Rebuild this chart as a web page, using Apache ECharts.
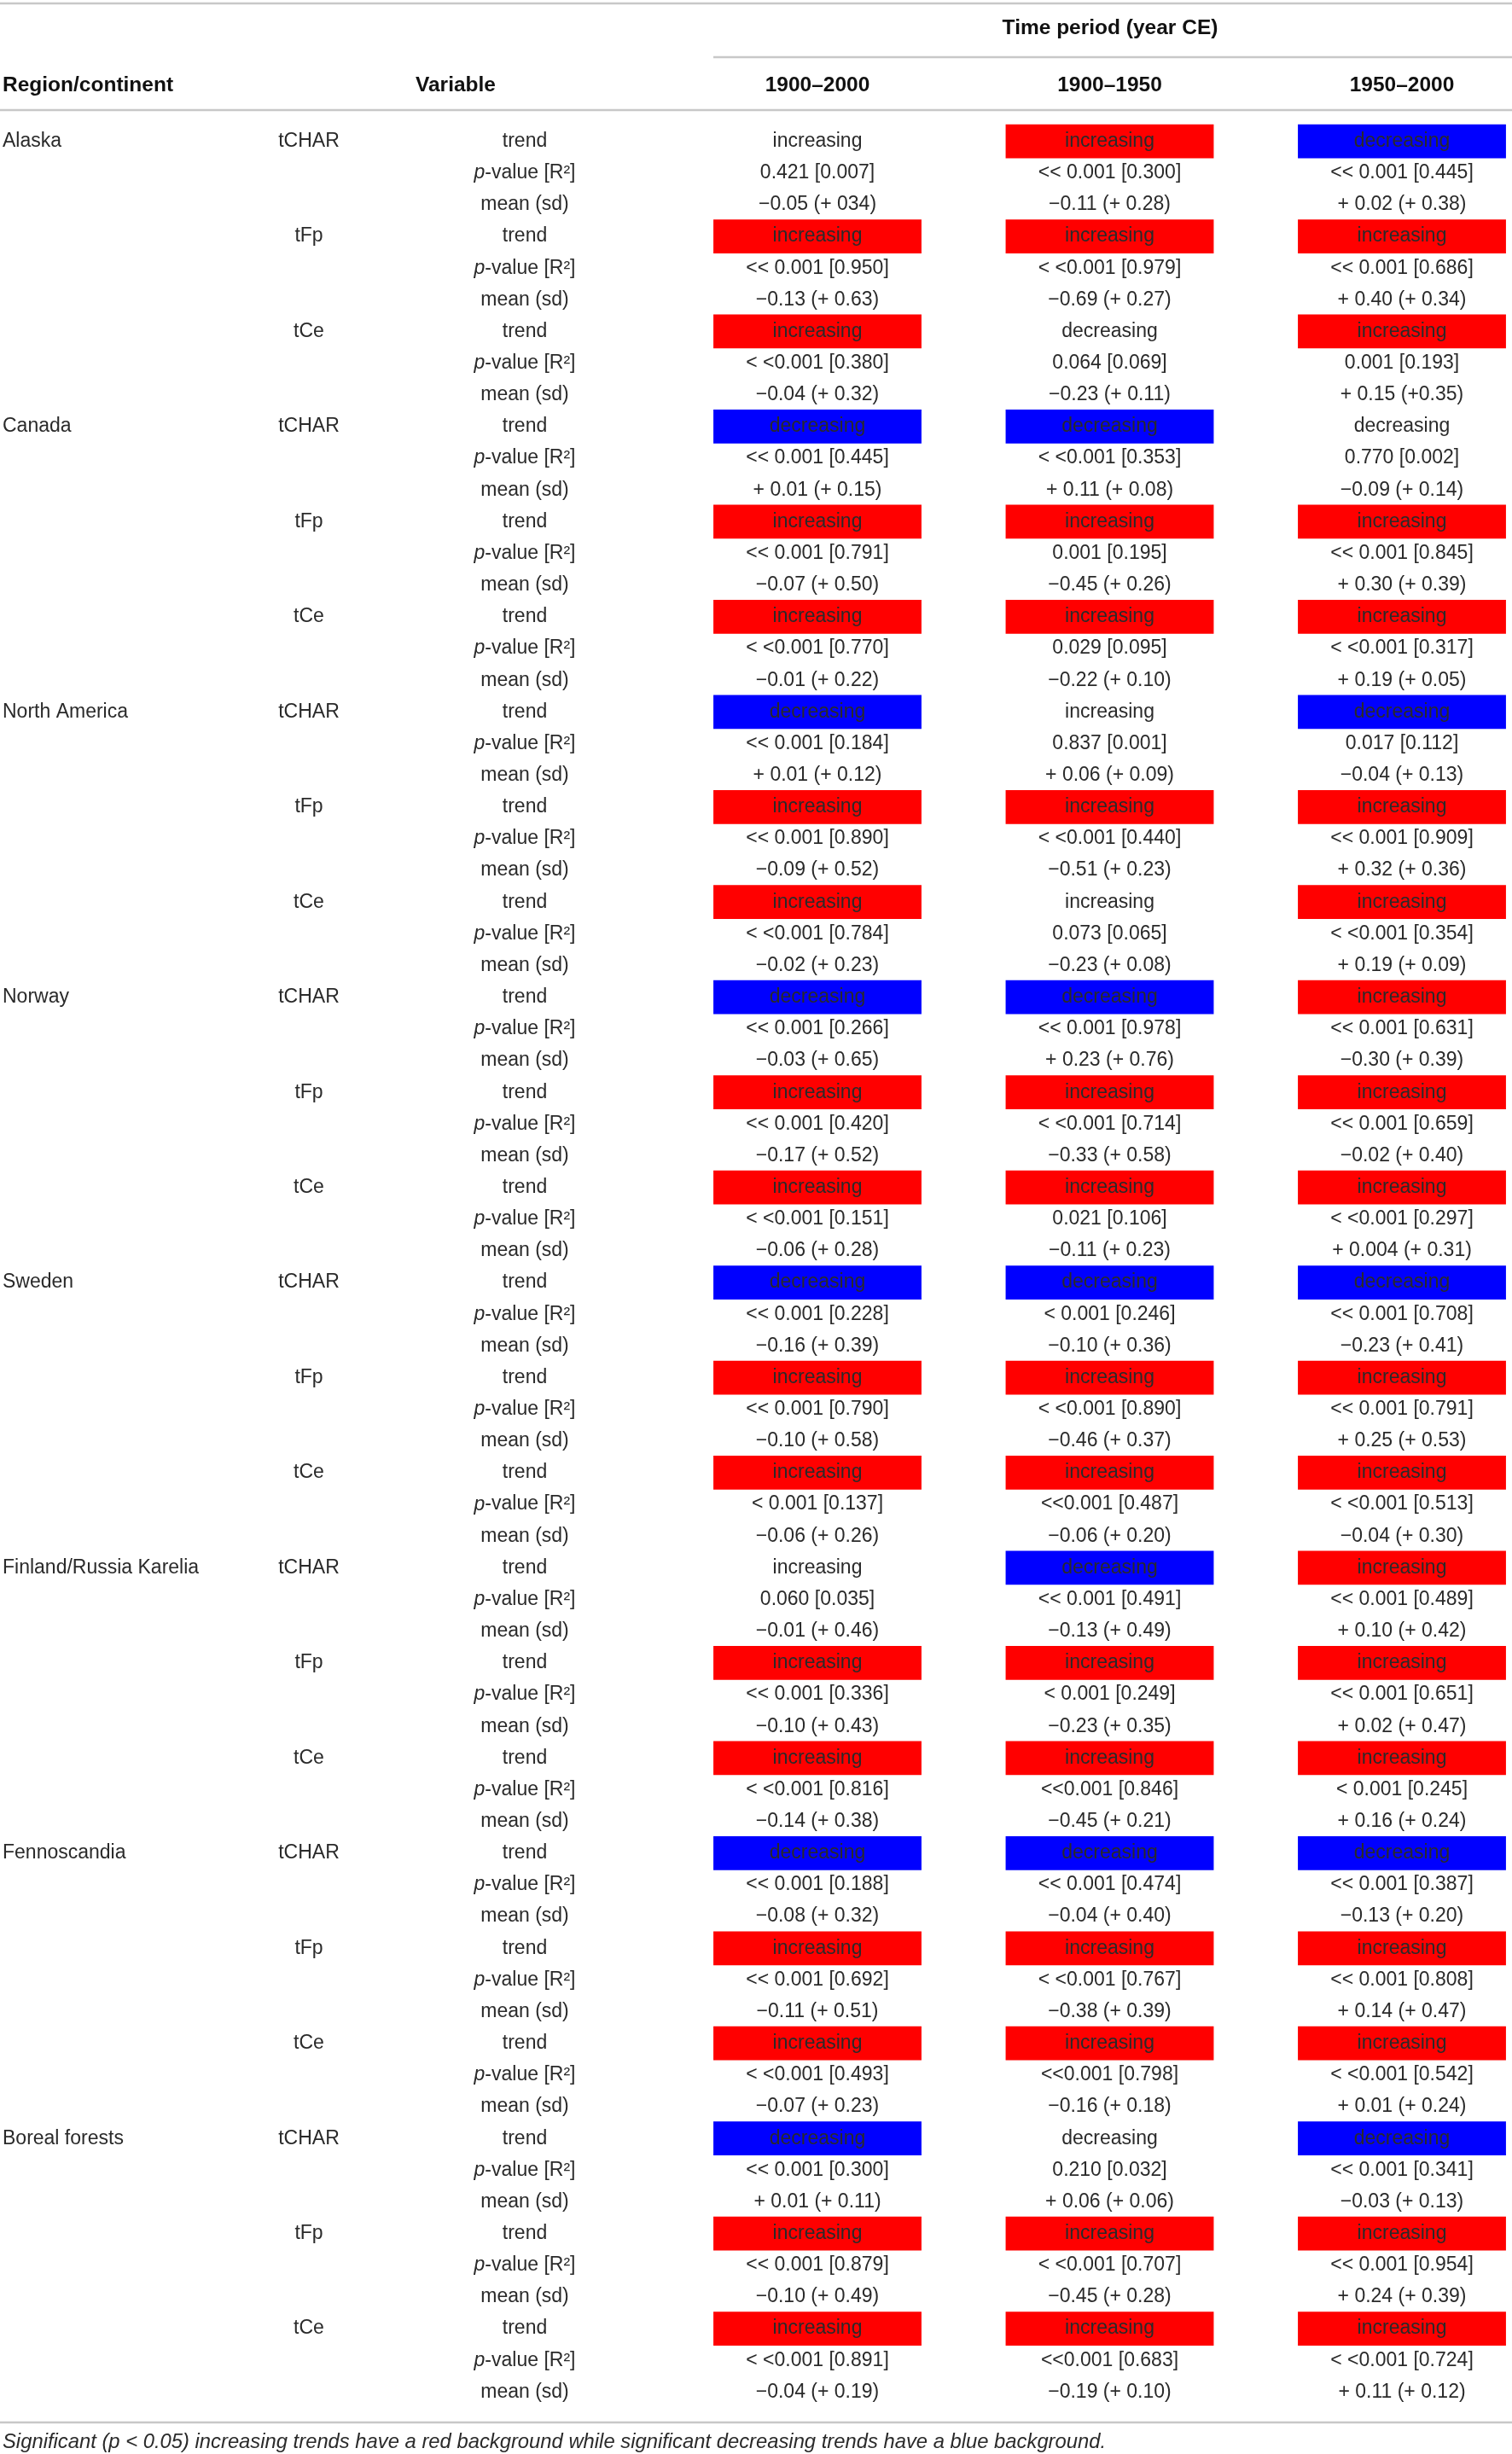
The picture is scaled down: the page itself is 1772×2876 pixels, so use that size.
<!DOCTYPE html>
<html><head><meta charset="utf-8">
<script src="https://cdn.jsdelivr.net/npm/echarts@6/dist/echarts.min.js"></script>
<style>html,body{margin:0;padding:0;background:#fff}#c{width:1772px;height:2876px}</style>
</head><body><div id="c"></div>
<script>
const regions = ['Alaska','Canada','North America','Norway','Sweden','Finland/Russia Karelia','Fennoscandia','Boreal forests'];
const variables = ['tCHAR','tFp','tCe'];
const statLabels = ['trend','{i|p}-value [R²]','mean (sd)'];
const periods = ['1900–2000','1900–1950','1950–2000'];

// 24 entries per period: region x (tCHAR, tFp, tCe)
const trend_1900_2000 = [
 'increasing','increasing','increasing',
 'decreasing','increasing','increasing',
 'decreasing','increasing','increasing',
 'decreasing','increasing','increasing',
 'decreasing','increasing','increasing',
 'increasing','increasing','increasing',
 'decreasing','increasing','increasing',
 'decreasing','increasing','increasing'];
const pval_1900_2000 = [
 '0.421 [0.007]','<< 0.001 [0.950]','< <0.001 [0.380]',
 '<< 0.001 [0.445]','<< 0.001 [0.791]','< <0.001 [0.770]',
 '<< 0.001 [0.184]','<< 0.001 [0.890]','< <0.001 [0.784]',
 '<< 0.001 [0.266]','<< 0.001 [0.420]','< <0.001 [0.151]',
 '<< 0.001 [0.228]','<< 0.001 [0.790]','< 0.001 [0.137]',
 '0.060 [0.035]','<< 0.001 [0.336]','< <0.001 [0.816]',
 '<< 0.001 [0.188]','<< 0.001 [0.692]','< <0.001 [0.493]',
 '<< 0.001 [0.300]','<< 0.001 [0.879]','< <0.001 [0.891]'];
const mean_1900_2000 = [
 '−0.05 (+ 034)','−0.13 (+ 0.63)','−0.04 (+ 0.32)',
 '+ 0.01 (+ 0.15)','−0.07 (+ 0.50)','−0.01 (+ 0.22)',
 '+ 0.01 (+ 0.12)','−0.09 (+ 0.52)','−0.02 (+ 0.23)',
 '−0.03 (+ 0.65)','−0.17 (+ 0.52)','−0.06 (+ 0.28)',
 '−0.16 (+ 0.39)','−0.10 (+ 0.58)','−0.06 (+ 0.26)',
 '−0.01 (+ 0.46)','−0.10 (+ 0.43)','−0.14 (+ 0.38)',
 '−0.08 (+ 0.32)','−0.11 (+ 0.51)','−0.07 (+ 0.23)',
 '+ 0.01 (+ 0.11)','−0.10 (+ 0.49)','−0.04 (+ 0.19)'];

const trend_1900_1950 = [
 'increasing','increasing','decreasing',
 'decreasing','increasing','increasing',
 'increasing','increasing','increasing',
 'decreasing','increasing','increasing',
 'decreasing','increasing','increasing',
 'decreasing','increasing','increasing',
 'decreasing','increasing','increasing',
 'decreasing','increasing','increasing'];
const pval_1900_1950 = [
 '<< 0.001 [0.300]','< <0.001 [0.979]','0.064 [0.069]',
 '< <0.001 [0.353]','0.001 [0.195]','0.029 [0.095]',
 '0.837 [0.001]','< <0.001 [0.440]','0.073 [0.065]',
 '<< 0.001 [0.978]','< <0.001 [0.714]','0.021 [0.106]',
 '< 0.001 [0.246]','< <0.001 [0.890]','<<0.001 [0.487]',
 '<< 0.001 [0.491]','< 0.001 [0.249]','<<0.001 [0.846]',
 '<< 0.001 [0.474]','< <0.001 [0.767]','<<0.001 [0.798]',
 '0.210 [0.032]','< <0.001 [0.707]','<<0.001 [0.683]'];
const mean_1900_1950 = [
 '−0.11 (+ 0.28)','−0.69 (+ 0.27)','−0.23 (+ 0.11)',
 '+ 0.11 (+ 0.08)','−0.45 (+ 0.26)','−0.22 (+ 0.10)',
 '+ 0.06 (+ 0.09)','−0.51 (+ 0.23)','−0.23 (+ 0.08)',
 '+ 0.23 (+ 0.76)','−0.33 (+ 0.58)','−0.11 (+ 0.23)',
 '−0.10 (+ 0.36)','−0.46 (+ 0.37)','−0.06 (+ 0.20)',
 '−0.13 (+ 0.49)','−0.23 (+ 0.35)','−0.45 (+ 0.21)',
 '−0.04 (+ 0.40)','−0.38 (+ 0.39)','−0.16 (+ 0.18)',
 '+ 0.06 (+ 0.06)','−0.45 (+ 0.28)','−0.19 (+ 0.10)'];

const trend_1950_2000 = [
 'decreasing','increasing','increasing',
 'decreasing','increasing','increasing',
 'decreasing','increasing','increasing',
 'increasing','increasing','increasing',
 'decreasing','increasing','increasing',
 'increasing','increasing','increasing',
 'decreasing','increasing','increasing',
 'decreasing','increasing','increasing'];
const pval_1950_2000 = [
 '<< 0.001 [0.445]','<< 0.001 [0.686]','0.001 [0.193]',
 '0.770 [0.002]','<< 0.001 [0.845]','< <0.001 [0.317]',
 '0.017 [0.112]','<< 0.001 [0.909]','< <0.001 [0.354]',
 '<< 0.001 [0.631]','<< 0.001 [0.659]','< <0.001 [0.297]',
 '<< 0.001 [0.708]','<< 0.001 [0.791]','< <0.001 [0.513]',
 '<< 0.001 [0.489]','<< 0.001 [0.651]','< 0.001 [0.245]',
 '<< 0.001 [0.387]','<< 0.001 [0.808]','< <0.001 [0.542]',
 '<< 0.001 [0.341]','<< 0.001 [0.954]','< <0.001 [0.724]'];
const mean_1950_2000 = [
 '+ 0.02 (+ 0.38)','+ 0.40 (+ 0.34)','+ 0.15 (+0.35)',
 '−0.09 (+ 0.14)','+ 0.30 (+ 0.39)','+ 0.19 (+ 0.05)',
 '−0.04 (+ 0.13)','+ 0.32 (+ 0.36)','+ 0.19 (+ 0.09)',
 '−0.30 (+ 0.39)','−0.02 (+ 0.40)','+ 0.004 (+ 0.31)',
 '−0.23 (+ 0.41)','+ 0.25 (+ 0.53)','−0.04 (+ 0.30)',
 '+ 0.10 (+ 0.42)','+ 0.02 (+ 0.47)','+ 0.16 (+ 0.24)',
 '−0.13 (+ 0.20)','+ 0.14 (+ 0.47)','+ 0.01 (+ 0.24)',
 '−0.03 (+ 0.13)','+ 0.24 (+ 0.39)','+ 0.11 (+ 0.12)'];

const footnote = 'Significant (p < 0.05) increasing trends have a red background while significant decreasing trends have a blue background.';

// ---------- build ----------
const periodTables = [
  [trend_1900_2000, pval_1900_2000, mean_1900_2000],
  [trend_1900_1950, pval_1900_1950, mean_1900_1950],
  [trend_1950_2000, pval_1950_2000, mean_1950_2000]
];
const nGroups = regions.length * variables.length;
const nRows = nGroups * statLabels.length;
const rowIds = Array.from({length: nRows}, (_, i) => String(i));

function isSig(p) {
  const s = p.trim();
  return s.startsWith('<') || parseFloat(s) < 0.05;
}
const RED = '#ff0000', BLUE = '#0000ff';
const cells = [];
periodTables.forEach((tbl, p) => {
  for (let g = 0; g < nGroups; g++) {
    for (let s = 0; s < 3; s++) {
      let fill = null;
      if (s === 0 && isSig(tbl[1][g])) fill = tbl[0][g] === 'increasing' ? RED : BLUE;
      cells.push({value: [p, g * 3 + s], text: tbl[s][g], fill: fill});
    }
  }
});
const regionCells = regions.map((r, i) => ({value: [0, i * 9], text: r}));
const varCells = [];
regions.forEach((r, i) => variables.forEach((v, j) => varCells.push({value: [0, i * 9 + j * 3], text: v})));
const statCells = rowIds.map((id, i) => ({value: [0, i], text: statLabels[i % 3]}));

const FAM = '"Liberation Sans", Arial, sans-serif';
const FS = 23;
const HFS = 24.5;
const TXT = '#2a2a2a';
const HEAD = '#111111';
const LINE = '#c8c8c8';

const TOP = 147, BOTTOM = 54;
const grids = [
  {left: 3, width: 300, top: TOP, bottom: BOTTOM},
  {left: 312, width: 100, top: TOP, bottom: BOTTOM},
  {left: 535, width: 160, top: TOP, bottom: BOTTOM},
  {left: 958, right: 129, top: TOP, bottom: BOTTOM}
];
const hiddenX = (i, name) => ({gridIndex: i, type: 'category', data: [name], show: false});
const yAxes = grids.map((g, i) => ({gridIndex: i, type: 'category', data: rowIds, inverse: true, show: false}));

function textEl(text, x, y, align, rich) {
  const st = {text: text, x: x, y: y, align: align, verticalAlign: 'middle',
    fontSize: FS, fontFamily: FAM, fill: TXT};
  if (rich) st.rich = rich;
  return {type: 'text', style: st};
}
const richP = {i: {fontStyle: 'italic', fontSize: FS, fontFamily: FAM, fill: TXT}};

const option = {
  backgroundColor: '#fff',
  animation: false,
  grid: grids,
  xAxis: [
    hiddenX(0, 'Region/continent'),
    hiddenX(1, 'Variable'),
    hiddenX(2, 'Statistic'),
    {gridIndex: 3, type: 'category', data: periods, boundaryGap: false, position: 'top',
     axisLine: {show: false}, axisTick: {show: false}, splitLine: {show: false},
     axisLabel: {show: true, margin: 47, verticalAlign: 'middle', fontSize: HFS, fontWeight: 'bold',
       fontFamily: FAM, color: HEAD, interval: 0}}
  ],
  yAxis: yAxes,
  graphic: [
    {type: 'line', shape: {x1: 0, y1: 4, x2: 1772, y2: 4}, style: {stroke: LINE, lineWidth: 2.5}},
    {type: 'line', shape: {x1: 836, y1: 67, x2: 1772, y2: 67}, style: {stroke: LINE, lineWidth: 2.5}},
    {type: 'line', shape: {x1: 0, y1: 129, x2: 1772, y2: 129}, style: {stroke: LINE, lineWidth: 2.5}},
    {type: 'line', shape: {x1: 0, y1: 2839, x2: 1772, y2: 2839}, style: {stroke: LINE, lineWidth: 2.5}},
    {type: 'text', x: 1301, y: 33, style: {text: 'Time period (year CE)', align: 'center', textAlign: 'center',
      verticalAlign: 'middle', textVerticalAlign: 'middle', fontSize: HFS, fontWeight: 'bold', fontFamily: FAM, fill: HEAD}},
    {type: 'text', x: 3, y: 100, style: {text: 'Region/continent', align: 'left', textAlign: 'left',
      verticalAlign: 'middle', textVerticalAlign: 'middle', fontSize: HFS, fontWeight: 'bold', fontFamily: FAM, fill: HEAD}},
    {type: 'text', x: 487, y: 100, style: {text: 'Variable', align: 'left', textAlign: 'left',
      verticalAlign: 'middle', textVerticalAlign: 'middle', fontSize: HFS, fontWeight: 'bold', fontFamily: FAM, fill: HEAD}},
    {type: 'text', x: 3, y: 2862, style: {text: footnote, align: 'left', textAlign: 'left',
      verticalAlign: 'middle', textVerticalAlign: 'middle', fontSize: 23.8, fontStyle: 'italic', fontFamily: FAM, fill: TXT}}
  ],
  series: [
    {type: 'custom', xAxisIndex: 0, yAxisIndex: 0, data: regionCells, silent: true,
     renderItem: (params, api) => {
       const pt = api.coord([api.value(0), api.value(1)]);
       return textEl(regionCells[params.dataIndex].text, params.coordSys.x, pt[1], 'left');
     }},
    {type: 'custom', xAxisIndex: 1, yAxisIndex: 1, data: varCells, silent: true,
     renderItem: (params, api) => {
       const pt = api.coord([api.value(0), api.value(1)]);
       return textEl(varCells[params.dataIndex].text, pt[0], pt[1], 'center');
     }},
    {type: 'custom', xAxisIndex: 2, yAxisIndex: 2, data: statCells, silent: true,
     renderItem: (params, api) => {
       const pt = api.coord([api.value(0), api.value(1)]);
       return textEl(statCells[params.dataIndex].text, pt[0], pt[1], 'center', richP);
     }},
    {type: 'custom', xAxisIndex: 3, yAxisIndex: 3, data: cells, silent: true,
     renderItem: (params, api) => {
       const c = cells[params.dataIndex];
       const pt = api.coord([api.value(0), api.value(1)]);
       const colW = api.size([1, 0])[0];
       const rowH = api.size([0, 1])[1];
       const children = [];
       if (c.fill) {
         const w = colW * 0.712, h = rowH * 1.07;
         children.push({type: 'rect', shape: {x: pt[0] - w / 2, y: pt[1] - h / 2, width: w, height: h},
           style: {fill: c.fill}});
       }
       children.push(textEl(c.text, pt[0], pt[1], 'center'));
       return {type: 'group', children: children};
     }}
  ]
};
const chart = echarts.init(document.getElementById('c'), null, {renderer: 'canvas'});
chart.setOption(option);
</script></body></html>
